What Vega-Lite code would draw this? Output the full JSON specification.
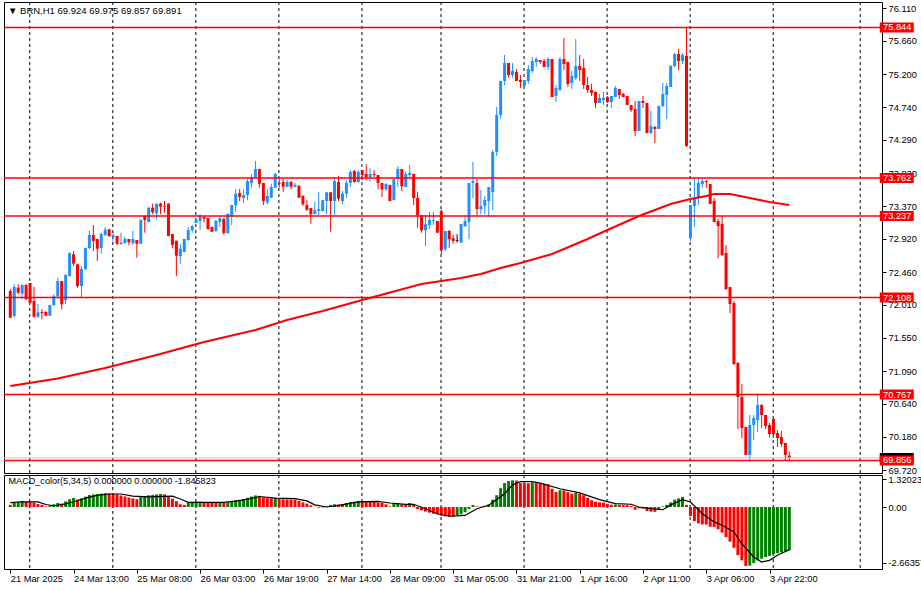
{
"$schema": "https://vega.github.io/schema/vega-lite/v6.json",
"padding": {"left": 2, "top": 1, "right": 0, "bottom": 0},
"background": "#FFFFFF",
"spacing": 2,
"bounds": "flush",
"resolve": {"scale": {"color": "independent"}},
"config": {
  "view": {"stroke": "#000000", "strokeWidth": 1, "fill": "#FFFFFF"},
  "font": "Liberation Sans",
  "axis": {"labelFont": "Liberation Sans", "labelFontSize": 9.3, "labelColor": "#000000", "tickColor": "#000000", "domainColor": "#000000", "grid": false, "labelOverlap": false},
  "title": {"font": "Liberation Sans", "fontSize": 9.5, "fontWeight": "normal", "color": "#000000", "anchor": "start", "frame": "group", "baseline": "alphabetic"}
},
"datasets": {
"grid": [{"g":4.925},{"g":25.925},{"g":46.925},{"g":67.925},{"g":88.925},{"g":108.925},{"g":129.925},{"g":150.925},{"g":171.925},{"g":192.925},{"g":214.925}],
"levels": [{"p":75.844,"t":"75.844"},{"p":73.762,"t":"73.762"},{"p":73.237,"t":"73.237"},{"p":72.108,"t":"72.108"},{"p":70.767,"t":"70.767"},{"p":69.856,"t":"69.856"}],
"bid": [{"p":69.891,"t":"69.891"}],
"ma": [{"i":0,"v":70.885},{"i":12,"v":70.99},{"i":24,"v":71.134},{"i":37,"v":71.314},{"i":49,"v":71.494},{"i":62,"v":71.66},{"i":70,"v":71.798},{"i":79,"v":71.922},{"i":89,"v":72.075},{"i":104,"v":72.296},{"i":109,"v":72.337},{"i":114,"v":72.379},{"i":119,"v":72.434},{"i":124,"v":72.517},{"i":129,"v":72.586},{"i":137,"v":72.711},{"i":146,"v":72.918},{"i":151,"v":73.043},{"i":159,"v":73.236},{"i":167,"v":73.402},{"i":172,"v":73.471},{"i":176,"v":73.513},{"i":178,"v":73.541},{"i":182,"v":73.541},{"i":187,"v":73.485},{"i":192,"v":73.43},{"i":197,"v":73.388}],
"candles": [
{"i":0,"o":72.199,"h":72.227,"l":71.826,"c":71.830,"d":"down"},
{"i":1,"o":71.853,"h":72.292,"l":71.830,"c":72.254,"d":"up"},
{"i":2,"o":72.245,"h":72.292,"l":72.153,"c":72.176,"d":"down"},
{"i":3,"o":72.162,"h":72.292,"l":72.084,"c":72.282,"d":"up"},
{"i":4,"o":72.282,"h":72.292,"l":72.080,"c":72.084,"d":"down"},
{"i":5,"o":72.310,"h":72.310,"l":72.037,"c":72.037,"d":"down"},
{"i":6,"o":72.061,"h":72.254,"l":71.830,"c":71.844,"d":"down"},
{"i":7,"o":71.844,"h":72.015,"l":71.830,"c":71.904,"d":"up"},
{"i":8,"o":71.909,"h":71.946,"l":71.808,"c":71.895,"d":"down"},
{"i":9,"o":71.909,"h":71.922,"l":71.853,"c":71.857,"d":"down"},
{"i":10,"o":71.857,"h":72.010,"l":71.853,"c":72.005,"d":"up"},
{"i":11,"o":72.005,"h":72.153,"l":71.992,"c":72.126,"d":"up"},
{"i":12,"o":72.126,"h":72.383,"l":72.106,"c":72.337,"d":"up"},
{"i":13,"o":72.337,"h":72.337,"l":71.946,"c":72.015,"d":"down"},
{"i":14,"o":72.070,"h":72.430,"l":72.015,"c":72.420,"d":"up"},
{"i":15,"o":72.407,"h":72.730,"l":72.400,"c":72.725,"d":"up"},
{"i":16,"o":72.707,"h":72.752,"l":72.545,"c":72.577,"d":"down"},
{"i":17,"o":72.568,"h":72.577,"l":72.245,"c":72.268,"d":"down"},
{"i":18,"o":72.268,"h":72.545,"l":72.116,"c":72.503,"d":"up"},
{"i":19,"o":72.499,"h":72.800,"l":72.495,"c":72.794,"d":"up"},
{"i":20,"o":72.794,"h":73.029,"l":72.776,"c":72.974,"d":"up"},
{"i":21,"o":72.974,"h":73.112,"l":72.752,"c":72.891,"d":"down"},
{"i":22,"o":72.918,"h":72.918,"l":72.614,"c":72.784,"d":"down"},
{"i":23,"o":72.794,"h":73.005,"l":72.715,"c":72.987,"d":"up"},
{"i":24,"o":72.974,"h":73.084,"l":72.960,"c":73.047,"d":"up"},
{"i":25,"o":73.052,"h":73.060,"l":72.950,"c":72.956,"d":"down"},
{"i":26,"o":72.946,"h":73.005,"l":72.881,"c":72.974,"d":"up"},
{"i":27,"o":72.960,"h":72.960,"l":72.835,"c":72.853,"d":"down"},
{"i":28,"o":72.849,"h":73.005,"l":72.835,"c":72.867,"d":"up"},
{"i":29,"o":72.863,"h":72.946,"l":72.853,"c":72.918,"d":"up"},
{"i":30,"o":72.918,"h":72.918,"l":72.835,"c":72.873,"d":"down"},
{"i":31,"o":72.863,"h":73.029,"l":72.835,"c":72.918,"d":"up"},
{"i":32,"o":72.904,"h":72.904,"l":72.660,"c":72.853,"d":"down"},
{"i":33,"o":72.853,"h":73.190,"l":72.850,"c":73.181,"d":"up"},
{"i":34,"o":73.236,"h":73.236,"l":73.005,"c":73.181,"d":"down"},
{"i":35,"o":73.153,"h":73.360,"l":73.150,"c":73.351,"d":"up"},
{"i":36,"o":73.351,"h":73.407,"l":73.260,"c":73.288,"d":"down"},
{"i":37,"o":73.274,"h":73.407,"l":73.185,"c":73.407,"d":"up"},
{"i":38,"o":73.407,"h":73.420,"l":73.260,"c":73.365,"d":"down"},
{"i":39,"o":73.375,"h":73.444,"l":73.282,"c":73.365,"d":"down"},
{"i":40,"o":73.407,"h":73.410,"l":72.955,"c":72.960,"d":"down"},
{"i":41,"o":72.987,"h":72.987,"l":72.790,"c":72.839,"d":"down"},
{"i":42,"o":72.895,"h":72.895,"l":72.407,"c":72.687,"d":"down"},
{"i":43,"o":72.683,"h":72.845,"l":72.577,"c":72.784,"d":"up"},
{"i":44,"o":72.738,"h":72.920,"l":72.735,"c":72.918,"d":"up"},
{"i":45,"o":72.904,"h":73.084,"l":72.891,"c":73.043,"d":"up"},
{"i":46,"o":73.039,"h":73.112,"l":73.005,"c":73.098,"d":"up"},
{"i":47,"o":73.140,"h":73.195,"l":73.140,"c":73.185,"d":"up"},
{"i":48,"o":73.167,"h":73.260,"l":73.043,"c":73.232,"d":"up"},
{"i":49,"o":73.222,"h":73.236,"l":73.149,"c":73.199,"d":"down"},
{"i":50,"o":73.209,"h":73.209,"l":73.043,"c":73.057,"d":"down"},
{"i":51,"o":73.084,"h":73.090,"l":73.015,"c":73.019,"d":"down"},
{"i":52,"o":73.029,"h":73.185,"l":73.019,"c":73.167,"d":"up"},
{"i":53,"o":73.153,"h":73.236,"l":73.084,"c":73.209,"d":"up"},
{"i":54,"o":73.195,"h":73.209,"l":72.978,"c":73.001,"d":"down"},
{"i":55,"o":73.001,"h":73.270,"l":72.990,"c":73.268,"d":"up"},
{"i":56,"o":73.232,"h":73.389,"l":73.112,"c":73.389,"d":"up"},
{"i":57,"o":73.384,"h":73.610,"l":73.292,"c":73.545,"d":"up"},
{"i":58,"o":73.554,"h":73.610,"l":73.444,"c":73.499,"d":"down"},
{"i":59,"o":73.485,"h":73.610,"l":73.416,"c":73.527,"d":"up"},
{"i":60,"o":73.527,"h":73.748,"l":73.454,"c":73.720,"d":"up"},
{"i":61,"o":73.693,"h":73.813,"l":73.628,"c":73.766,"d":"up"},
{"i":62,"o":73.766,"h":73.997,"l":73.766,"c":73.886,"d":"up"},
{"i":63,"o":73.886,"h":73.886,"l":73.628,"c":73.683,"d":"down"},
{"i":64,"o":73.693,"h":73.693,"l":73.389,"c":73.444,"d":"down"},
{"i":65,"o":73.426,"h":73.610,"l":73.398,"c":73.513,"d":"up"},
{"i":66,"o":73.489,"h":73.683,"l":73.489,"c":73.637,"d":"up"},
{"i":67,"o":73.628,"h":73.831,"l":73.628,"c":73.817,"d":"up"},
{"i":68,"o":73.693,"h":73.748,"l":73.628,"c":73.683,"d":"down"},
{"i":69,"o":73.707,"h":73.748,"l":73.572,"c":73.642,"d":"down"},
{"i":70,"o":73.642,"h":73.738,"l":73.637,"c":73.707,"d":"up"},
{"i":71,"o":73.707,"h":73.720,"l":73.606,"c":73.642,"d":"down"},
{"i":72,"o":73.642,"h":73.697,"l":73.628,"c":73.669,"d":"up"},
{"i":73,"o":73.655,"h":73.660,"l":73.485,"c":73.489,"d":"down"},
{"i":74,"o":73.517,"h":73.517,"l":73.375,"c":73.398,"d":"down"},
{"i":75,"o":73.389,"h":73.454,"l":73.306,"c":73.323,"d":"down"},
{"i":76,"o":73.347,"h":73.347,"l":73.130,"c":73.260,"d":"down"},
{"i":77,"o":73.264,"h":73.430,"l":73.260,"c":73.319,"d":"up"},
{"i":78,"o":73.306,"h":73.568,"l":73.250,"c":73.333,"d":"up"},
{"i":79,"o":73.306,"h":73.460,"l":73.300,"c":73.454,"d":"up"},
{"i":80,"o":73.444,"h":73.564,"l":73.260,"c":73.564,"d":"up"},
{"i":81,"o":73.564,"h":73.564,"l":73.019,"c":73.444,"d":"down"},
{"i":82,"o":73.444,"h":73.766,"l":73.250,"c":73.720,"d":"up"},
{"i":83,"o":73.707,"h":73.790,"l":73.444,"c":73.476,"d":"down"},
{"i":84,"o":73.444,"h":73.582,"l":73.398,"c":73.545,"d":"up"},
{"i":85,"o":73.545,"h":73.730,"l":73.489,"c":73.693,"d":"up"},
{"i":86,"o":73.693,"h":73.873,"l":73.637,"c":73.845,"d":"up"},
{"i":87,"o":73.859,"h":73.873,"l":73.697,"c":73.707,"d":"down"},
{"i":88,"o":73.707,"h":73.873,"l":73.697,"c":73.845,"d":"up"},
{"i":89,"o":73.873,"h":73.873,"l":73.730,"c":73.803,"d":"down"},
{"i":90,"o":73.817,"h":73.951,"l":73.730,"c":73.776,"d":"down"},
{"i":91,"o":73.776,"h":73.896,"l":73.711,"c":73.817,"d":"up"},
{"i":92,"o":73.817,"h":73.873,"l":73.776,"c":73.803,"d":"down"},
{"i":93,"o":73.803,"h":73.803,"l":73.606,"c":73.693,"d":"down"},
{"i":94,"o":73.693,"h":73.693,"l":73.499,"c":73.606,"d":"down"},
{"i":95,"o":73.606,"h":73.693,"l":73.582,"c":73.679,"d":"up"},
{"i":96,"o":73.665,"h":73.670,"l":73.440,"c":73.444,"d":"down"},
{"i":97,"o":73.458,"h":73.750,"l":73.450,"c":73.748,"d":"up"},
{"i":98,"o":73.748,"h":73.924,"l":73.637,"c":73.886,"d":"up"},
{"i":99,"o":73.886,"h":73.886,"l":73.582,"c":73.647,"d":"down"},
{"i":100,"o":73.637,"h":73.849,"l":73.637,"c":73.817,"d":"up"},
{"i":101,"o":73.803,"h":73.942,"l":73.766,"c":73.831,"d":"up"},
{"i":102,"o":73.817,"h":73.817,"l":73.389,"c":73.485,"d":"down"},
{"i":103,"o":73.485,"h":73.572,"l":73.075,"c":73.250,"d":"down"},
{"i":104,"o":73.250,"h":73.250,"l":73.005,"c":73.039,"d":"down"},
{"i":105,"o":73.039,"h":73.250,"l":72.821,"c":73.122,"d":"up"},
{"i":106,"o":73.112,"h":73.292,"l":73.052,"c":73.181,"d":"up"},
{"i":107,"o":73.167,"h":73.292,"l":73.112,"c":73.181,"d":"up"},
{"i":108,"o":73.167,"h":73.170,"l":73.000,"c":73.005,"d":"down"},
{"i":109,"o":73.306,"h":73.329,"l":72.707,"c":72.762,"d":"down"},
{"i":110,"o":72.776,"h":73.029,"l":72.752,"c":73.029,"d":"up"},
{"i":111,"o":73.029,"h":73.043,"l":72.794,"c":72.914,"d":"down"},
{"i":112,"o":72.928,"h":72.974,"l":72.853,"c":72.891,"d":"down"},
{"i":113,"o":72.900,"h":72.983,"l":72.867,"c":72.891,"d":"doji"},
{"i":114,"o":72.867,"h":73.130,"l":72.867,"c":73.126,"d":"up"},
{"i":115,"o":73.098,"h":73.236,"l":73.084,"c":73.167,"d":"up"},
{"i":116,"o":73.153,"h":73.693,"l":72.914,"c":73.693,"d":"up"},
{"i":117,"o":73.693,"h":73.983,"l":73.485,"c":73.720,"d":"up"},
{"i":118,"o":73.693,"h":73.748,"l":73.250,"c":73.333,"d":"down"},
{"i":119,"o":73.333,"h":73.596,"l":73.260,"c":73.375,"d":"up"},
{"i":120,"o":73.375,"h":73.513,"l":73.260,"c":73.458,"d":"up"},
{"i":121,"o":73.444,"h":73.637,"l":73.227,"c":73.637,"d":"up"},
{"i":122,"o":73.568,"h":74.149,"l":73.319,"c":74.122,"d":"up"},
{"i":123,"o":74.122,"h":74.744,"l":74.066,"c":74.633,"d":"up"},
{"i":124,"o":74.633,"h":75.104,"l":74.582,"c":75.104,"d":"up"},
{"i":125,"o":75.104,"h":75.463,"l":75.048,"c":75.352,"d":"up"},
{"i":126,"o":75.352,"h":75.352,"l":75.149,"c":75.187,"d":"down"},
{"i":127,"o":75.187,"h":75.352,"l":75.149,"c":75.242,"d":"up"},
{"i":128,"o":75.228,"h":75.269,"l":75.104,"c":75.104,"d":"down"},
{"i":129,"o":75.117,"h":75.187,"l":75.007,"c":75.090,"d":"down"},
{"i":130,"o":75.034,"h":75.120,"l":75.030,"c":75.117,"d":"up"},
{"i":131,"o":75.104,"h":75.325,"l":75.062,"c":75.269,"d":"up"},
{"i":132,"o":75.242,"h":75.435,"l":75.214,"c":75.380,"d":"up"},
{"i":133,"o":75.366,"h":75.435,"l":75.297,"c":75.408,"d":"up"},
{"i":134,"o":75.394,"h":75.394,"l":75.339,"c":75.366,"d":"down"},
{"i":135,"o":75.380,"h":75.408,"l":75.297,"c":75.297,"d":"down"},
{"i":136,"o":75.297,"h":75.435,"l":75.256,"c":75.408,"d":"up"},
{"i":137,"o":75.408,"h":75.410,"l":74.880,"c":74.882,"d":"down"},
{"i":138,"o":74.896,"h":75.048,"l":74.813,"c":75.007,"d":"up"},
{"i":139,"o":74.979,"h":75.435,"l":74.965,"c":75.408,"d":"up"},
{"i":140,"o":75.408,"h":75.698,"l":75.256,"c":75.339,"d":"down"},
{"i":141,"o":75.366,"h":75.366,"l":75.021,"c":75.062,"d":"down"},
{"i":142,"o":75.076,"h":75.242,"l":74.993,"c":75.173,"d":"up"},
{"i":143,"o":75.145,"h":75.684,"l":75.117,"c":75.311,"d":"up"},
{"i":144,"o":75.311,"h":75.463,"l":75.104,"c":75.256,"d":"down"},
{"i":145,"o":75.283,"h":75.408,"l":74.993,"c":75.048,"d":"down"},
{"i":146,"o":75.048,"h":75.159,"l":74.938,"c":74.979,"d":"down"},
{"i":147,"o":74.979,"h":75.062,"l":74.896,"c":74.938,"d":"down"},
{"i":148,"o":74.951,"h":74.965,"l":74.730,"c":74.799,"d":"down"},
{"i":149,"o":74.799,"h":74.924,"l":74.799,"c":74.868,"d":"up"},
{"i":150,"o":74.841,"h":74.951,"l":74.772,"c":74.868,"d":"up"},
{"i":151,"o":74.882,"h":74.896,"l":74.799,"c":74.813,"d":"down"},
{"i":152,"o":74.813,"h":74.896,"l":74.730,"c":74.896,"d":"up"},
{"i":153,"o":74.882,"h":75.034,"l":74.882,"c":75.007,"d":"up"},
{"i":154,"o":74.993,"h":74.993,"l":74.855,"c":74.910,"d":"down"},
{"i":155,"o":74.924,"h":74.938,"l":74.882,"c":74.882,"d":"down"},
{"i":156,"o":74.896,"h":74.900,"l":74.770,"c":74.772,"d":"down"},
{"i":157,"o":74.772,"h":74.772,"l":74.675,"c":74.702,"d":"down"},
{"i":158,"o":74.716,"h":74.827,"l":74.343,"c":74.412,"d":"down"},
{"i":159,"o":74.412,"h":74.830,"l":74.410,"c":74.827,"d":"up"},
{"i":160,"o":74.827,"h":74.896,"l":74.730,"c":74.799,"d":"down"},
{"i":161,"o":74.799,"h":74.800,"l":74.380,"c":74.384,"d":"down"},
{"i":162,"o":74.384,"h":74.689,"l":74.370,"c":74.481,"d":"up"},
{"i":163,"o":74.467,"h":74.481,"l":74.246,"c":74.440,"d":"down"},
{"i":164,"o":74.440,"h":74.760,"l":74.440,"c":74.758,"d":"up"},
{"i":165,"o":74.758,"h":75.076,"l":74.744,"c":74.924,"d":"up"},
{"i":166,"o":74.910,"h":75.076,"l":74.578,"c":75.034,"d":"up"},
{"i":167,"o":75.021,"h":75.320,"l":75.020,"c":75.311,"d":"up"},
{"i":168,"o":75.311,"h":75.491,"l":75.297,"c":75.477,"d":"up"},
{"i":169,"o":75.477,"h":75.546,"l":75.256,"c":75.380,"d":"down"},
{"i":170,"o":75.380,"h":75.491,"l":75.339,"c":75.463,"d":"up"},
{"i":171,"o":75.449,"h":75.850,"l":74.191,"c":74.205,"d":"down"},
{"i":172,"o":72.932,"h":73.389,"l":72.891,"c":73.389,"d":"up"},
{"i":173,"o":73.375,"h":73.762,"l":73.084,"c":73.485,"d":"up"},
{"i":174,"o":73.499,"h":73.762,"l":73.389,"c":73.693,"d":"up"},
{"i":175,"o":73.679,"h":73.762,"l":73.624,"c":73.720,"d":"up"},
{"i":176,"o":73.720,"h":73.734,"l":73.624,"c":73.707,"d":"down"},
{"i":177,"o":73.679,"h":73.680,"l":73.400,"c":73.402,"d":"down"},
{"i":178,"o":73.444,"h":73.485,"l":73.153,"c":73.153,"d":"down"},
{"i":179,"o":73.167,"h":73.195,"l":72.655,"c":73.098,"d":"down"},
{"i":180,"o":73.126,"h":73.236,"l":72.683,"c":72.697,"d":"down"},
{"i":181,"o":72.725,"h":72.835,"l":72.213,"c":72.227,"d":"down"},
{"i":182,"o":72.254,"h":72.254,"l":71.895,"c":72.019,"d":"down"},
{"i":183,"o":72.033,"h":72.061,"l":71.176,"c":71.189,"d":"down"},
{"i":184,"o":71.203,"h":71.217,"l":70.290,"c":70.733,"d":"down"},
{"i":185,"o":70.733,"h":70.913,"l":70.166,"c":70.304,"d":"down"},
{"i":186,"o":70.318,"h":70.320,"l":69.930,"c":69.931,"d":"down"},
{"i":187,"o":69.931,"h":70.484,"l":69.862,"c":70.346,"d":"up"},
{"i":188,"o":70.346,"h":70.484,"l":70.138,"c":70.443,"d":"up"},
{"i":189,"o":70.415,"h":70.761,"l":70.249,"c":70.622,"d":"up"},
{"i":190,"o":70.622,"h":70.636,"l":70.304,"c":70.484,"d":"down"},
{"i":191,"o":70.484,"h":70.484,"l":70.290,"c":70.332,"d":"down"},
{"i":192,"o":70.346,"h":70.373,"l":70.180,"c":70.221,"d":"down"},
{"i":193,"o":70.429,"h":70.443,"l":70.166,"c":70.221,"d":"down"},
{"i":194,"o":70.235,"h":70.277,"l":70.041,"c":70.166,"d":"down"},
{"i":195,"o":70.180,"h":70.263,"l":70.041,"c":70.083,"d":"down"},
{"i":196,"o":70.097,"h":70.097,"l":69.862,"c":69.931,"d":"down"},
{"i":197,"o":69.924,"h":69.975,"l":69.857,"c":69.891,"d":"down"}
],
"macd": [
{"i":0,"v":0.10,"k":"r"},{"i":1,"v":0.21,"k":"g"},{"i":2,"v":0.25,"k":"g"},{"i":3,"v":0.29,"k":"g"},{"i":4,"v":0.24,"k":"r"},{"i":5,"v":0.23,"k":"r"},{"i":6,"v":0.21,"k":"r"},{"i":7,"v":0.14,"k":"r"},{"i":8,"v":0.10,"k":"r"},{"i":9,"v":0.03,"k":"r"},
{"i":10,"v":0.06,"k":"g"},{"i":11,"v":0.13,"k":"g"},{"i":12,"v":0.19,"k":"g"},{"i":13,"v":0.16,"k":"r"},{"i":14,"v":0.27,"k":"g"},{"i":15,"v":0.37,"k":"g"},{"i":16,"v":0.43,"k":"g"},{"i":17,"v":0.36,"k":"r"},{"i":18,"v":0.41,"k":"g"},{"i":19,"v":0.49,"k":"g"},
{"i":20,"v":0.57,"k":"g"},{"i":21,"v":0.60,"k":"g"},{"i":22,"v":0.62,"k":"g"},{"i":23,"v":0.64,"k":"g"},{"i":24,"v":0.66,"k":"g"},{"i":25,"v":0.64,"k":"r"},{"i":26,"v":0.62,"k":"r"},{"i":27,"v":0.60,"k":"r"},{"i":28,"v":0.55,"k":"r"},{"i":29,"v":0.50,"k":"r"},
{"i":30,"v":0.45,"k":"r"},{"i":31,"v":0.41,"k":"r"},{"i":32,"v":0.37,"k":"r"},{"i":33,"v":0.48,"k":"g"},{"i":34,"v":0.52,"k":"g"},{"i":35,"v":0.56,"k":"g"},{"i":36,"v":0.58,"k":"g"},{"i":37,"v":0.60,"k":"g"},{"i":38,"v":0.62,"k":"g"},{"i":39,"v":0.60,"k":"r"},
{"i":40,"v":0.48,"k":"r"},{"i":41,"v":0.40,"k":"r"},{"i":42,"v":0.28,"k":"r"},{"i":43,"v":0.13,"k":"r"},{"i":44,"v":0.10,"k":"r"},{"i":45,"v":0.20,"k":"g"},{"i":46,"v":0.24,"k":"g"},{"i":47,"v":0.25,"k":"g"},{"i":48,"v":0.26,"k":"g"},{"i":49,"v":0.24,"k":"r"},
{"i":50,"v":0.22,"k":"r"},{"i":51,"v":0.20,"k":"r"},{"i":52,"v":0.19,"k":"r"},{"i":53,"v":0.20,"k":"g"},{"i":54,"v":0.19,"k":"r"},{"i":55,"v":0.22,"k":"g"},{"i":56,"v":0.27,"k":"g"},{"i":57,"v":0.32,"k":"g"},{"i":58,"v":0.35,"k":"g"},{"i":59,"v":0.38,"k":"g"},
{"i":60,"v":0.44,"k":"g"},{"i":61,"v":0.50,"k":"g"},{"i":62,"v":0.55,"k":"g"},{"i":63,"v":0.53,"k":"r"},{"i":64,"v":0.46,"k":"r"},{"i":65,"v":0.42,"k":"r"},{"i":66,"v":0.41,"k":"r"},{"i":67,"v":0.43,"k":"g"},{"i":68,"v":0.38,"k":"r"},{"i":69,"v":0.37,"k":"r"},
{"i":70,"v":0.36,"k":"r"},{"i":71,"v":0.36,"k":"r"},{"i":72,"v":0.35,"k":"r"},{"i":73,"v":0.29,"k":"r"},{"i":74,"v":0.22,"k":"r"},{"i":75,"v":0.16,"k":"r"},{"i":76,"v":0.08,"k":"r"},{"i":77,"v":0.01,"k":"r"},{"i":78,"v":-0.03,"k":"r"},{"i":79,"v":-0.02,"k":"g"},
{"i":80,"v":0.03,"k":"g"},{"i":81,"v":0.10,"k":"g"},{"i":82,"v":0.13,"k":"g"},{"i":83,"v":0.12,"k":"r"},{"i":84,"v":0.11,"k":"r"},{"i":85,"v":0.19,"k":"g"},{"i":86,"v":0.24,"k":"g"},{"i":87,"v":0.25,"k":"g"},{"i":88,"v":0.29,"k":"g"},{"i":89,"v":0.28,"k":"r"},
{"i":90,"v":0.27,"k":"r"},{"i":91,"v":0.26,"k":"r"},{"i":92,"v":0.25,"k":"r"},{"i":93,"v":0.22,"k":"r"},{"i":94,"v":0.19,"k":"r"},{"i":95,"v":0.13,"k":"r"},{"i":96,"v":0.03,"k":"r"},{"i":97,"v":0.16,"k":"g"},{"i":98,"v":0.19,"k":"g"},{"i":99,"v":0.13,"k":"r"},
{"i":100,"v":0.10,"k":"r"},{"i":101,"v":0.19,"k":"g"},{"i":102,"v":0.10,"k":"r"},{"i":103,"v":-0.10,"k":"r"},{"i":104,"v":-0.16,"k":"r"},{"i":105,"v":-0.22,"k":"r"},{"i":106,"v":-0.27,"k":"r"},{"i":107,"v":-0.32,"k":"r"},{"i":108,"v":-0.35,"k":"r"},{"i":109,"v":-0.41,"k":"r"},
{"i":110,"v":-0.44,"k":"r"},{"i":111,"v":-0.45,"k":"r"},{"i":112,"v":-0.46,"k":"r"},{"i":113,"v":-0.40,"k":"g"},{"i":114,"v":-0.35,"k":"g"},{"i":115,"v":-0.25,"k":"g"},{"i":116,"v":-0.10,"k":"g"},{"i":117,"v":0.10,"k":"g"},{"i":118,"v":0.03,"k":"r"},{"i":119,"v":0.02,"k":"r"},
{"i":120,"v":0.06,"k":"g"},{"i":121,"v":0.13,"k":"g"},{"i":122,"v":0.35,"k":"g"},{"i":123,"v":0.56,"k":"g"},{"i":124,"v":0.90,"k":"g"},{"i":125,"v":1.14,"k":"g"},{"i":126,"v":1.24,"k":"g"},{"i":127,"v":1.27,"k":"g"},{"i":128,"v":1.26,"k":"r"},{"i":129,"v":1.14,"k":"r"},
{"i":130,"v":1.13,"k":"r"},{"i":131,"v":1.13,"k":"r"},{"i":132,"v":1.17,"k":"g"},{"i":133,"v":1.14,"k":"r"},{"i":134,"v":1.12,"k":"r"},{"i":135,"v":1.11,"k":"r"},{"i":136,"v":1.08,"k":"r"},{"i":137,"v":0.87,"k":"r"},{"i":138,"v":0.71,"k":"r"},{"i":139,"v":0.80,"k":"g"},
{"i":140,"v":0.79,"k":"r"},{"i":141,"v":0.71,"k":"r"},{"i":142,"v":0.63,"k":"r"},{"i":143,"v":0.67,"k":"g"},{"i":144,"v":0.63,"k":"r"},{"i":145,"v":0.56,"k":"r"},{"i":146,"v":0.44,"k":"r"},{"i":147,"v":0.32,"k":"r"},{"i":148,"v":0.25,"k":"r"},{"i":149,"v":0.22,"k":"r"},
{"i":150,"v":0.21,"k":"r"},{"i":151,"v":0.14,"k":"r"},{"i":152,"v":0.11,"k":"r"},{"i":153,"v":0.12,"k":"g"},{"i":154,"v":0.10,"k":"r"},{"i":155,"v":0.09,"k":"r"},{"i":156,"v":0.09,"k":"r"},{"i":157,"v":0.06,"k":"r"},{"i":158,"v":-0.13,"k":"r"},{"i":159,"v":-0.06,"k":"g"},
{"i":160,"v":-0.08,"k":"r"},{"i":161,"v":-0.19,"k":"r"},{"i":162,"v":-0.22,"k":"r"},{"i":163,"v":-0.23,"k":"r"},{"i":164,"v":-0.13,"k":"g"},{"i":165,"v":0.03,"k":"g"},{"i":166,"v":0.10,"k":"g"},{"i":167,"v":0.22,"k":"g"},{"i":168,"v":0.35,"k":"g"},{"i":169,"v":0.41,"k":"g"},
{"i":170,"v":0.48,"k":"g"},{"i":171,"v":0.10,"k":"r"},{"i":172,"v":-0.43,"k":"r"},{"i":173,"v":-0.67,"k":"r"},{"i":174,"v":-0.78,"k":"r"},{"i":175,"v":-0.83,"k":"r"},{"i":176,"v":-0.84,"k":"r"},{"i":177,"v":-0.94,"k":"r"},{"i":178,"v":-0.95,"k":"r"},{"i":179,"v":-1.06,"k":"r"},
{"i":180,"v":-1.22,"k":"r"},{"i":181,"v":-1.43,"k":"r"},{"i":182,"v":-1.65,"k":"r"},{"i":183,"v":-1.94,"k":"r"},{"i":184,"v":-2.29,"k":"r"},{"i":185,"v":-2.54,"k":"r"},{"i":186,"v":-2.81,"k":"r"},{"i":187,"v":-2.79,"k":"g"},{"i":188,"v":-2.67,"k":"g"},{"i":189,"v":-2.54,"k":"g"},
{"i":190,"v":-2.46,"k":"g"},{"i":191,"v":-2.38,"k":"g"},{"i":192,"v":-2.33,"k":"g"},{"i":193,"v":-2.25,"k":"g"},{"i":194,"v":-2.20,"k":"g"},{"i":195,"v":-2.16,"k":"g"},{"i":196,"v":-2.10,"k":"g"},{"i":197,"v":-2.06,"k":"g"}
],
"signal": [{"i":0,"v":0.21},{"i":3,"v":0.25},{"i":7,"v":0.24},{"i":9,"v":0.12},{"i":11,"v":0.06},{"i":14,"v":0.15},{"i":17,"v":0.30},{"i":19,"v":0.42},{"i":22,"v":0.55},{"i":25,"v":0.62},{"i":28,"v":0.62},{"i":31,"v":0.52},{"i":35,"v":0.48},{"i":41,"v":0.52},{"i":43,"v":0.38},{"i":45,"v":0.22},{"i":49,"v":0.22},{"i":54,"v":0.22},{"i":58,"v":0.30},{"i":61,"v":0.41},{"i":63,"v":0.50},{"i":67,"v":0.42},{"i":72,"v":0.40},{"i":75,"v":0.29},{"i":77,"v":0.10},{"i":80,"v":0.0},{"i":83,"v":0.08},{"i":88,"v":0.24},{"i":93,"v":0.27},{"i":96,"v":0.19},{"i":100,"v":0.13},{"i":102,"v":0.13},{"i":105,"v":-0.08},{"i":108,"v":-0.32},{"i":111,"v":-0.44},{"i":115,"v":-0.40},{"i":118,"v":-0.08},{"i":121,"v":0.08},{"i":125,"v":0.63},{"i":127,"v":1.05},{"i":129,"v":1.21},{"i":132,"v":1.21},{"i":134,"v":1.14},{"i":139,"v":0.87},{"i":144,"v":0.67},{"i":149,"v":0.35},{"i":153,"v":0.16},{"i":157,"v":0.13},{"i":159,"v":0.0},{"i":162,"v":-0.08},{"i":165,"v":-0.13},{"i":167,"v":0.10},{"i":170,"v":0.35},{"i":172,"v":0.24},{"i":175,"v":-0.32},{"i":178,"v":-0.71},{"i":180,"v":-0.87},{"i":183,"v":-1.19},{"i":185,"v":-1.75},{"i":188,"v":-2.38},{"i":190,"v":-2.62},{"i":192,"v":-2.54},{"i":194,"v":-2.30},{"i":197,"v":-2.03}]
},
"vconcat": [
{
  "width": 878, "height": 471,
  "title": {"text": "▼ BRN,H1  69.924 69.975 69.857 69.891", "offset": -13.5, "dx": 4},
  "layer": [
    {"data": {"name": "grid"}, "mark": {"type": "rule", "color": "#000000", "strokeWidth": 1, "strokeDash": [3, 3]},
     "encoding": {"x": {"field": "g", "type": "quantitative", "scale": {"domain": [-0.325, 219.175], "nice": false, "zero": false}, "axis": null}}},
    {"data": {"name": "candles"}, "mark": {"type": "rule", "strokeWidth": 1},
     "encoding": {
       "x": {"field": "i", "type": "quantitative", "scale": {"domain": [-0.325, 219.175], "nice": false, "zero": false}, "axis": null},
       "y": {"field": "l", "type": "quantitative", "scale": {"domain": [69.682, 76.196], "nice": false, "zero": false},
             "axis": {"orient": "right", "title": null, "values": [76.11, 75.66, 75.2, 74.74, 74.29, 73.83, 73.37, 72.92, 72.46, 72.01, 71.55, 71.09, 70.64, 70.18, 69.72], "tickCount": 40, "format": ".3f", "tickSize": 4, "labelPadding": 2, "domain": false, "labelOverlap": false}},
       "y2": {"field": "h"},
       "color": {"field": "d", "type": "nominal", "scale": {"domain": ["up", "down", "doji"], "range": ["#1E90FF", "#FF0000", "#000000"]}, "legend": null}}},
    {"data": {"name": "candles"}, "mark": {"type": "bar", "size": 3, "opacity": 1},
     "encoding": {
       "x": {"field": "i", "type": "quantitative", "scale": {"domain": [-0.325, 219.175], "nice": false, "zero": false}, "axis": null},
       "y": {"field": "o", "type": "quantitative", "scale": {"domain": [69.682, 76.196], "nice": false, "zero": false}, "title": null},
       "y2": {"field": "c"},
       "color": {"field": "d", "type": "nominal", "scale": {"domain": ["up", "down", "doji"], "range": ["#1E90FF", "#FF0000", "#000000"]}, "legend": null}}},
    {"data": {"name": "ma"}, "mark": {"type": "line", "color": "#FF0000", "strokeWidth": 2},
     "encoding": {
       "x": {"field": "i", "type": "quantitative", "scale": {"domain": [-0.325, 219.175], "nice": false, "zero": false}, "axis": null},
       "y": {"field": "v", "type": "quantitative", "scale": {"domain": [69.682, 76.196], "nice": false, "zero": false}, "title": null}}},
    {"data": {"name": "levels"}, "mark": {"type": "rule", "color": "#FF0000", "strokeWidth": 1.5},
     "encoding": {"y": {"field": "p", "type": "quantitative", "scale": {"domain": [69.682, 76.196], "nice": false, "zero": false}, "title": null}}},
    {"data": {"name": "bid"}, "mark": {"type": "rule", "color": "#C0C0C0", "strokeWidth": 1},
     "encoding": {"y": {"field": "p", "type": "quantitative", "scale": {"domain": [69.682, 76.196], "nice": false, "zero": false}, "title": null}}},
    {"data": {"name": "bid"}, "mark": {"type": "tick", "orient": "horizontal", "color": "#000000", "size": 34, "thickness": 10, "opacity": 1},
     "encoding": {
       "x": {"datum": 224.175, "type": "quantitative", "scale": {"domain": [-0.325, 219.175], "nice": false, "zero": false}, "axis": null},
       "y": {"field": "p", "type": "quantitative", "scale": {"domain": [69.682, 76.196], "nice": false, "zero": false}, "title": null}}},
    {"data": {"name": "levels"}, "mark": {"type": "tick", "orient": "horizontal", "color": "#FF0000", "size": 34, "thickness": 10, "opacity": 1},
     "encoding": {
       "x": {"datum": 224.175, "type": "quantitative", "scale": {"domain": [-0.325, 219.175], "nice": false, "zero": false}, "axis": null},
       "y": {"field": "p", "type": "quantitative", "scale": {"domain": [69.682, 76.196], "nice": false, "zero": false}, "title": null}}},
    {"data": {"name": "levels"}, "mark": {"type": "text", "align": "left", "baseline": "middle", "color": "#FFFFFF", "font": "Liberation Sans", "fontSize": 9.3},
     "encoding": {
       "x": {"datum": 220.7, "type": "quantitative", "scale": {"domain": [-0.325, 219.175], "nice": false, "zero": false}, "axis": null},
       "y": {"field": "p", "type": "quantitative", "scale": {"domain": [69.682, 76.196], "nice": false, "zero": false}, "title": null},
       "text": {"field": "t"}}}
  ]
},
{
  "width": 878, "height": 94,
  "title": {"text": "MACD_color(5,34,5) 0.000000 0.000000 -1.845823", "offset": -12, "dx": 4.5, "fontSize": 9.1},
  "layer": [
    {"data": {"name": "grid"}, "mark": {"type": "rule", "color": "#000000", "strokeWidth": 1, "strokeDash": [3, 3]},
     "encoding": {"x": {"field": "g", "type": "quantitative", "scale": {"domain": [-0.325, 219.175], "nice": false, "zero": false},
        "axis": {"title": null, "values": [0, 16, 32, 48, 64, 80, 96, 112, 128, 144, 160, 176, 192], "tickCount": 40, "labelExpr": "['21 Mar 2025','24 Mar 13:00','25 Mar 08:00','26 Mar 03:00','26 Mar 19:00','27 Mar 14:00','28 Mar 09:00','31 Mar 05:00','31 Mar 21:00','1 Apr 16:00','2 Apr 11:00','3 Apr 06:00','3 Apr 22:00'][round(datum.value/16)]", "labelAlign": "left", "labelFlush": false, "tickSize": 4, "labelPadding": 1, "domain": false, "labelOverlap": false}}}},
    {"data": {"name": "macd"}, "mark": {"type": "bar", "size": 3, "opacity": 1},
     "encoding": {
       "x": {"field": "i", "type": "quantitative", "scale": {"domain": [-0.325, 219.175], "nice": false, "zero": false}, "title": null},
       "y": {"field": "v", "type": "quantitative", "scale": {"domain": [-2.952, 1.524], "nice": false, "zero": false},
             "axis": {"orient": "right", "title": null, "values": [1.320233, 0, -2.66357], "tickCount": 10, "labelExpr": "datum.value > 1 ? '1.320233' : (datum.value < -1 ? '-2.663570' : '0.00')", "tickSize": 4, "labelPadding": 2, "domain": false, "labelOverlap": false}},
       "y2": {"datum": 0},
       "color": {"field": "k", "type": "nominal", "scale": {"domain": ["g", "r"], "range": ["#008000", "#FF0000"]}, "legend": null}}},
    {"data": {"name": "signal"}, "mark": {"type": "line", "color": "#000000", "strokeWidth": 1.2},
     "encoding": {
       "x": {"field": "i", "type": "quantitative", "scale": {"domain": [-0.325, 219.175], "nice": false, "zero": false}, "title": null},
       "y": {"field": "v", "type": "quantitative", "scale": {"domain": [-2.952, 1.524], "nice": false, "zero": false}, "title": null}}}
  ]
}
]
}
